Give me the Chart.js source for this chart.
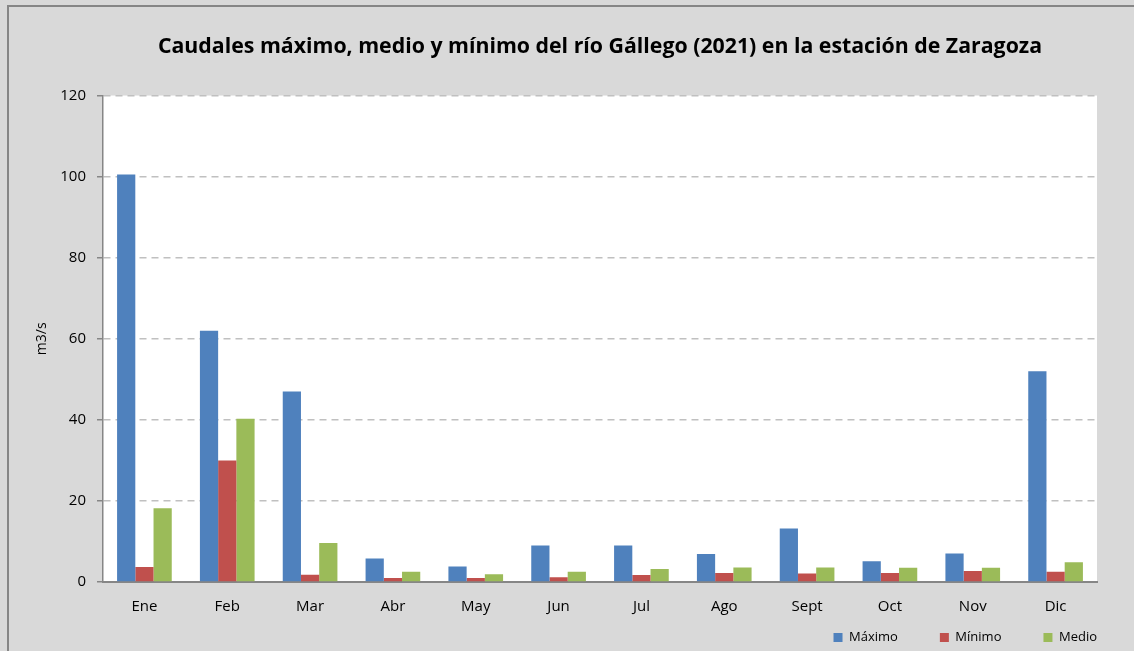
<!DOCTYPE html>
<html>
<head>
<meta charset="utf-8">
<script src="https://cdn.jsdelivr.net/npm/chart.js@4.4.0/dist/chart.umd.min.js"></script>
<style>
  body { margin: 0; background: #d9d9d9; }
  #wrap { width: 1134px; height: 651px; position: relative; }
</style>
</head>
<body>
<div id="wrap"><canvas id="canvas"></canvas></div>
<script>
// Datos del gráfico
const meses = ['Ene', 'Feb', 'Mar', 'Abr', 'May', 'Jun', 'Jul', 'Ago', 'Sept', 'Oct', 'Nov', 'Dic'];
const maximo = [100.5, 62, 47, 5.8, 3.8, 9, 9, 6.9, 13.2, 5.1, 7, 52];
const minimo = [3.7, 30, 1.8, 1, 1, 1.2, 1.7, 2.2, 2.1, 2.2, 2.7, 2.5];
const medio = [18.2, 40.3, 9.6, 2.5, 1.9, 2.5, 3.2, 3.6, 3.6, 3.5, 3.5, 4.9];

const fuente = '"Open Sans", "DejaVu Sans", sans-serif';

// Fondo blanco del área de trazado y borde del gráfico
const fondoPlugin = {
    id: 'fondo',
    afterLayout(chart) {
        // subir la leyenda para dejarla justo debajo de las etiquetas
        chart.legend.top -= 35;
        chart.legend.bottom -= 35;
    },
    beforeDraw(chart) {
        const { ctx, chartArea } = chart;
        ctx.save();
        ctx.fillStyle = '#d9d9d9';
        ctx.fillRect(0, 0, chart.width, chart.height);
        ctx.fillStyle = '#ffffff';
        ctx.fillRect(chartArea.left, chartArea.top, chartArea.right - chartArea.left, chartArea.bottom - chartArea.top);
        ctx.strokeStyle = '#868686';
        ctx.lineWidth = 2;
        ctx.beginPath();
        ctx.moveTo(8, chart.height);
        ctx.lineTo(8, 6);
        ctx.lineTo(chart.width, 6);
        ctx.stroke();
        ctx.restore();
    }
};

const ctx = document.getElementById('canvas').getContext('2d');
new Chart(ctx, {
    type: 'bar',
    data: {
        labels: meses,
        datasets: [
            { label: 'Máximo', data: maximo, backgroundColor: '#4f81bd' },
            { label: 'Mínimo', data: minimo, backgroundColor: '#c0504d' },
            { label: 'Medio', data: medio, backgroundColor: '#9bbb59' }
        ]
    },
    options: {
        responsive: true,
        maintainAspectRatio: false,
        animation: false,
        datasets: {
            bar: { categoryPercentage: 0.66, barPercentage: 1, yAxisID: 'y' }
        },
        layout: { padding: { left: 0, right: -5, top: 34, bottom: -38 } },
        plugins: {
            title: {
                display: true,
                fullSize: false,
                text: 'Caudales máximo, medio y mínimo del río Gállego (2021) en la estación de Zaragoza',
                color: '#000',
                font: { family: fuente, size: 21.3, weight: 'bold' },
                padding: { top: 0, bottom: 36 }
            },
            legend: {
                position: 'bottom',
                align: 'end',
                labels: {
                    color: '#000',
                    font: { family: fuente, size: 13 },
                    boxWidth: 9,
                    boxHeight: 9,
                    padding: 42
                }
            },
            tooltip: { enabled: false }
        },
        scales: {
            x: {
                grid: { display: false },
                border: { color: '#868686', width: 2 },
                ticks: { color: '#000', font: { family: fuente, size: 15 }, padding: 8 }
            },
            y: {
                min: 0,
                max: 120,
                afterFit(scale) { scale.width = 103; },
                title: {
                    display: true,
                    text: 'm3/s',
                    color: '#000',
                    font: { family: fuente, size: 14 },
                    padding: { top: 34, bottom: 0 }
                },
                ticks: { stepSize: 20, color: '#000', font: { family: fuente, size: 15 }, padding: 11 },
                grid: { color: '#c0c0c0', lineWidth: 1.5, tickLength: 6, tickColor: '#868686', tickBorderDash: [] },
                border: { color: '#868686', width: 1.5, dash: [7, 5] }
            },
            // eje vacío a la derecha, solo para reservar el margen
            derecha: {
                position: 'right',
                display: true,
                afterFit(scale) { scale.width = 42; },
                grid: { display: false },
                border: { display: false },
                ticks: { display: false }
            }
        }
    },
    plugins: [fondoPlugin]
});
</script>
</body>
</html>
